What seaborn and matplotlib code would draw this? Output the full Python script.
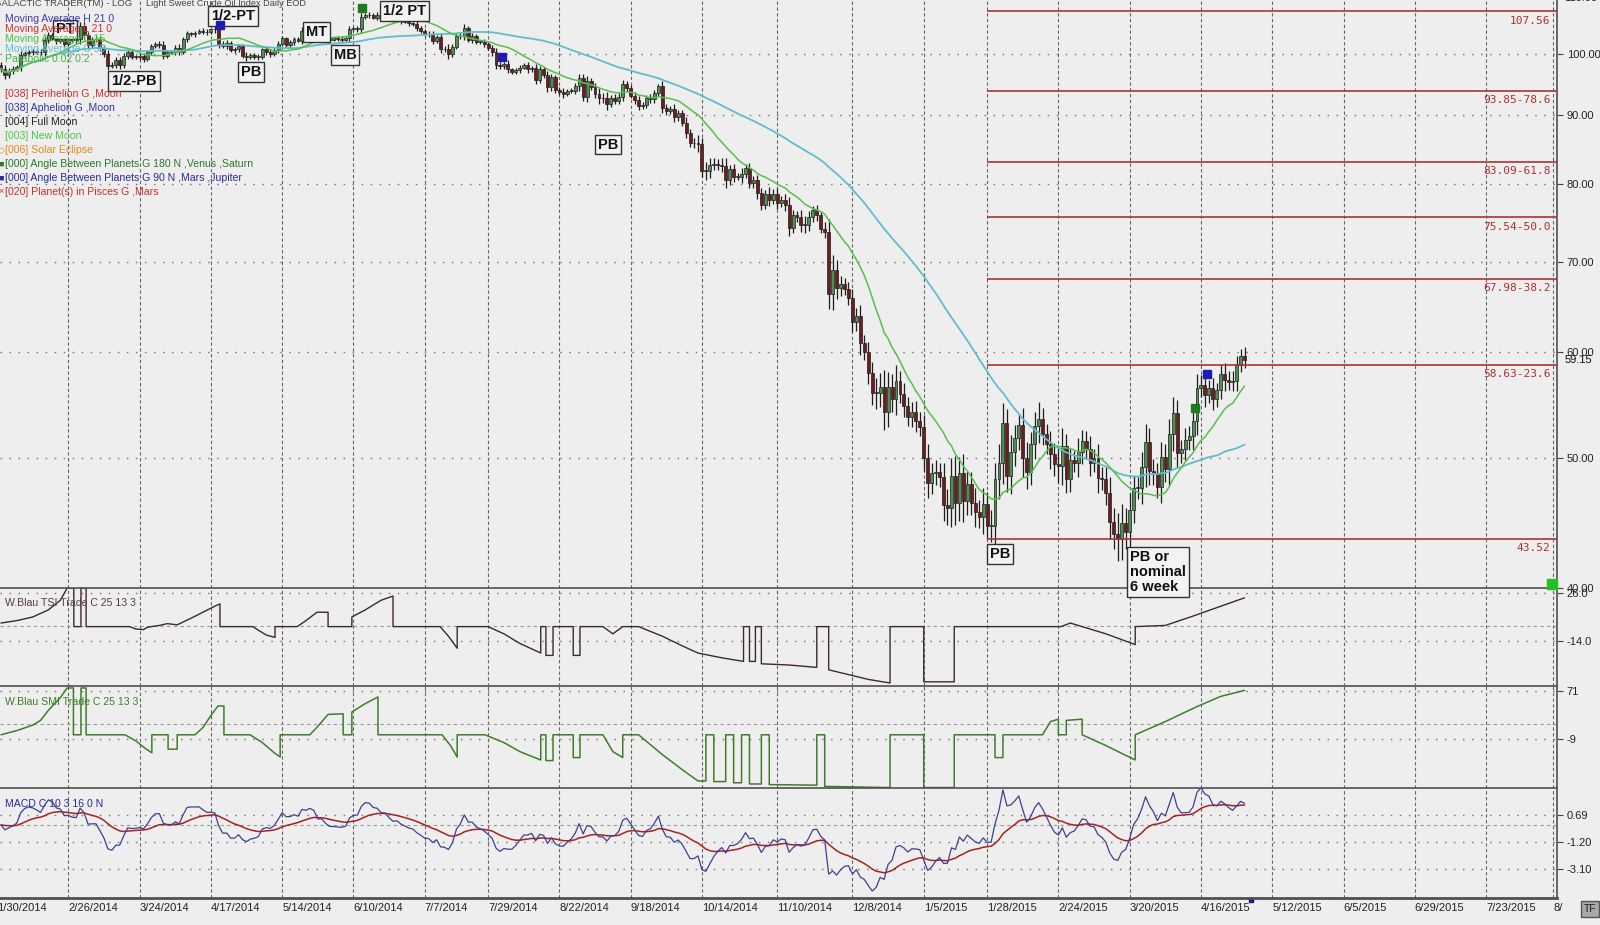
import numpy as np
import pandas as pd
import seaborn as sns
import matplotlib.pyplot as plt
import matplotlib.transforms as mtransforms

sns.set_style("white")
plt.rcParams['font.family'] = ['Liberation Sans', 'DejaVu Sans']

# ---- data ----
# daily closes, bar 1 (1/31/2014) .. bar 315 (5/1/2015)
first_open = 98.2
closes = [
    97.5, 96.4, 97.2, 97.4, 97.8, 99.9, 100.1, 100.4, 100.4, 100.4,
    100.3, 102.4, 103.3, 102.8, 102.2, 102.8, 101.8, 102.6, 102.4, 102.6,
    104.9, 103.3, 101.5, 102.6, 102.6, 101.1, 100.0, 98.0, 98.2, 98.9,
    98.1, 99.7, 100.4, 99.5, 99.5, 99.6, 99.2, 100.3, 101.3, 101.7,
    101.6, 99.7, 100.3, 100.3, 101.1, 100.4, 102.6, 103.6, 103.4, 103.7,
    104.1, 103.8, 103.8, 104.3, 104.4, 101.8, 101.4, 101.9, 100.6, 100.8,
    101.3, 99.7, 99.4, 99.8, 99.5, 99.5, 100.8, 100.3, 100.0, 100.6,
    101.7, 102.7, 101.5, 102.0, 102.6, 102.3, 104.1, 103.6, 104.4, 104.1,
    102.7, 103.6, 102.7, 102.5, 102.7, 102.6, 102.5, 102.7, 104.4, 104.4,
    104.4, 106.5, 106.9, 106.9, 106.4, 107.0, 106.4, 107.0, 106.2, 106.0,
    106.5, 105.8, 105.7, 105.4, 105.3, 104.5, 104.1, 103.5, 103.4, 102.3,
    102.9, 100.8, 100.9, 100.0, 101.2, 103.2, 103.1, 104.6, 102.4, 103.1,
    102.1, 102.1, 101.7, 101.0, 100.3, 98.2, 97.9, 98.3, 97.4, 97.0,
    97.3, 97.7, 98.1, 97.4, 97.6, 95.6, 97.4, 96.4, 94.5, 96.1,
    94.0, 93.7, 93.4, 93.9, 93.9, 94.6, 96.0, 92.9, 95.5, 94.5,
    93.3, 92.7, 92.8, 91.7, 92.8, 92.3, 92.9, 94.9, 94.4, 93.1,
    92.4, 91.5, 91.6, 92.8, 92.5, 93.5, 94.6, 91.2, 90.7, 91.0,
    89.7, 90.3, 88.9, 87.3, 85.8, 85.8, 85.7, 81.8, 81.8, 82.7,
    82.8, 82.7, 82.5, 80.5, 82.1, 81.0, 81.0, 81.4, 82.2, 80.1,
    80.5, 78.8, 77.2, 78.7, 77.9, 78.7, 77.4, 77.9, 77.2, 74.2,
    75.8, 75.6, 74.6, 74.6, 75.6, 76.5, 75.8, 74.1, 73.7, 66.2,
    69.0, 66.9, 67.4, 66.8, 65.8, 63.1, 63.8, 60.9, 60.0, 57.8,
    55.9, 55.9, 56.5, 54.1, 56.5, 55.3, 57.1, 55.8, 54.7, 53.6,
    54.1, 53.3, 52.7, 50.0, 47.9, 48.7, 48.8, 48.4, 46.1, 45.9,
    48.5, 46.3, 48.7, 46.4, 47.8, 46.3, 45.6, 45.2, 46.2, 44.5,
    44.5, 48.2, 49.6, 53.1, 48.5, 50.5, 51.7, 52.9, 50.0, 48.8,
    51.2, 52.8, 53.5, 52.1, 51.2, 50.3, 49.5, 49.3, 51.0, 48.2,
    49.8, 49.6, 50.5, 51.5, 50.8, 49.6, 50.0, 48.3, 48.2, 47.1,
    44.8, 43.9, 43.5, 44.7, 44.0, 45.7, 47.5, 47.5, 49.2, 51.4,
    48.9, 48.7, 47.6, 50.1, 49.1, 52.1, 54.0, 50.4, 50.8, 51.6,
    51.9, 53.3, 56.4, 56.7, 55.7, 56.4, 55.3, 56.2, 57.7, 57.2,
    57.0, 57.1, 58.6, 59.6, 59.2,
]
# wick length beyond the body, per bar
wicks = [
    .5, .6, .4, .5, .3, .6, .4, .3, .5, .4,
    .4, .6, .5, .4, .5, .3, .6, .4, .3, .5,
    .8, .7, .6, .4, .5, .6, .5, .7, .4, .5,
    .6, .4, .5, .3, .4, .5, .6, .4, .5, .3,
    .5, .6, .4, .3, .5, .6, .4, .5, .3, .4,
    .3, .4, .5, .3, .6, .7, .4, .5, .3, .4,
    .5, .4, .6, .3, .4, .5, .3, .4, .6, .4,
    .5, .4, .3, .5, .4, .3, .6, .4, .3, .5,
    .4, .3, .5, .4, .3, .4, .5, .3, .6, .4,
    .5, .7, .4, .5, .3, .4, .5, .6, .4, .3,
    .4, .5, .3, .4, .3, .5, .4, .3, .5, .6,
    .4, .7, .5, .9, .6, .4, .5, .6, .4, .5,
    .4, .3, .5, .4, .6, .7, .5, .4, .6, .3,
    .4, .5, .3, .6, .4, .7, .5, .4, .8, .6,
    .4, .5, .6, .3, .4, .5, .7, .6, .8, .5,
    .6, 1.0, .8, .9, .4, .5, .6, .7, .5, .4,
    .6, .7, .5, .4, .6, .5, .4, .8, .6, .5,
    .7, .6, .5, .8, .6, .7, 1.2, .9, 1.3, 1.0,
    .8, .7, .9, 1.1, .6, .7, .5, .8, .6, .7,
    .6, .8, .7, .5, .9, .6, .7, .5, .8, 1.0,
    .7, .6, .9, 1.1, .8, .6, .7, .5, .8, 1.6,
    1.8, 1.2, .9, .7, .8, 1.0, .9, 1.2, .8, 1.0,
    1.1, 1.5, 1.3, 1.6, 1.4, 1.2, 1.5, .9, 1.1, .8,
    .9, 1.0, .8, 1.1, 1.2, .9, 1.0, .8, 1.2, 1.3,
    1.5, 1.7, 1.4, 1.6, 1.1, 1.0, 1.2, .9, 1.3, 1.0,
    1.2, 1.4, 1.6, 1.8, 1.3, 1.5, 1.2, 1.0, 1.6, 1.4,
    1.1, 1.3, 1.5, 1.0, .9, 1.2, 1.0, 1.4, 1.6, 1.1,
    1.0, .8, 1.2, 1.0, .9, 1.1, .8, 1.2, .9, 1.0,
    1.3, 1.1, 1.6, 1.5, 1.2, 1.4, 1.0, .9, 1.3, 1.6,
    1.2, 1.0, .9, 1.3, 1.1, 1.4, 1.5, 1.2, .8, 1.0,
    .9, 1.2, 1.3, .9, 1.1, .8, 1.0, .7, .9, 1.1,
    .8, .9, 1.0, .7, .9,
]

# TSI "trade" line vertices (bar, value)
tsi_bar = [1, 5, 9, 13, 16, 17.7, 19.4, 19.4, 21.2, 21.2, 22.5, 22.5,
           33.5, 35, 37, 38, 41, 43, 45.5, 49, 52, 55, 56.3, 56.3,
           64.6, 66, 68, 70.2, 70.2, 75.8, 78, 80.8, 83.6, 83.6,
           89.6, 89.6, 93, 97, 100, 100, 111.9, 114, 116.2, 116.2,
           124, 128, 132, 137.3, 137.3, 138.6, 138.6, 140.4, 140.4,
           145.5, 145.5, 147.2, 147.2, 153, 155.5, 158, 162, 168, 173, 177,
           183, 188.5, 188.5, 190, 190, 191.5, 191.5, 193, 193, 200, 207, 207,
           210, 210, 215, 220, 225.5, 225.5, 234, 234, 241.7, 241.7,
           268.7, 271, 274, 280, 287.4, 287.4, 295, 302, 309, 315]
tsi_val = [1, 3, 6, 12, 20, 30, 30, -2, -2, 30, 30, -2,
           -2, -4, -4.5, -2.5, -1, 0.5, -0.5, 5, 10, 15, 17, -2,
           -2, -5, -9, -11, -2, -2, 3, 10, 10, -2,
           -2, 6, 12, 20, 23.5, -2, -2, -10, -20, -2,
           -2, -8, -16, -24, -2, -2, -26, -26, -2,
           -2, -26, -26, -2, -2, -8, -2, -2, -10, -18, -24,
           -28, -31, -2, -2, -31, -31, -2, -2, -33, -34, -36, -2,
           -2, -38, -42, -46, -49, -2, -2, -48, -48, -2,
           -2, 1, -2, -8, -17, -2, -1, 6.8, 15, 22]

# SMI "trade" line vertices (bar, value)
smi_bar = [1, 5, 9, 11, 13, 16, 17.7, 19.3, 19.3, 21.2, 21.2, 22.5, 22.5,
           32.3, 35, 37.5, 39.1, 39.1, 43.2, 43.2, 45.5, 45.5,
           50, 52, 54, 55.8, 57.3, 57.3, 63.9, 67, 70, 71.5, 71.5,
           79, 81, 83.6, 87.4, 87.4, 89.6, 89.6, 93, 96.2, 96.2,
           112.4, 114.5, 116.2, 116.2, 123.2, 128, 132, 137.3, 137.3, 138.6,
           138.6, 140.4, 140.4, 145.5, 145.5, 147.2, 147.2, 153, 155.5, 158, 158,
           162, 168, 173, 177, 179, 179, 181, 181, 184, 184, 186, 186, 188, 188,
           190, 190, 193, 193, 195, 195, 207, 207, 209, 209, 225.5, 225.5,
           234, 234, 241.7, 241.7, 252, 252, 254, 254, 264, 266, 268, 268,
           270, 270, 274, 274, 280, 287.4, 287.4, 295, 303, 309, 315]
smi_val = [-2, 5, 14, 22, 39, 60, 76, 76, -2, -2, 76, 76, -2,
           -2, -12, -25, -32, -2, -2, -26, -26, -2,
           -2, 10, 30, 46, 46, -2, -2, -15, -32, -39, -2,
           -2, 12, 32, 33, -2, -2, 36, 50, 61, -2,
           -2, -20, -39, -2, -2, -15, -30, -44, -2, -2,
           -45, -45, -2, -2, -40, -40, -2, -2, -30, -40, -2,
           -2, -35, -60, -79, -79, -2, -2, -80, -80, -2, -2, -82, -82, -2,
           -2, -84, -84, -2, -2, -85, -86, -2, -2, -88, -90, -2,
           -2, -90, -90, -2, -2, -40, -40, -2, -2, 20, 24, -2,
           -2, 22, 24, -2, -20, -44, -2, 20, 45, 62, 72]

# x axis: bar numbers of the date ticks
tick_bars = [0, 18, 36, 54, 72, 90, 108, 124, 142, 160, 178, 197, 216, 234,
             250, 268, 286, 304, 322, 340, 358, 376, 393]
tick_labels = ['1/30/2014', '2/26/2014', '3/24/2014', '4/17/2014', '5/14/2014',
               '6/10/2014', '7/7/2014', '7/29/2014', '8/22/2014', '9/18/2014',
               '10/14/2014', '11/10/2014', '12/8/2014', '1/5/2015', '1/28/2015',
               '2/24/2015', '3/20/2015', '4/16/2015', '5/12/2015', '6/5/2015',
               '6/29/2015', '7/23/2015', '8/']

fib_levels = [107.56, 93.85, 83.09, 75.54, 67.98, 58.63, 43.52]
fib_labels = ['107.56', '93.85-78.6', '83.09-61.8', '75.54-50.0',
              '67.98-38.2', '58.63-23.6', '43.52']
fib_start = 250

ann_text = ['PT', '1/2-PB', '1/2-PT', 'PB', 'MT', 'MB', '1/2 PT', 'PB', 'PB']
ann_bar = [17.2, 34.6, 59.6, 64.1, 80.6, 87.9, 102.8, 154.3, 253.3]
ann_price = [104.3, 95.4, 106.7, 96.9, 103.8, 99.8, 107.6, 85.6, 42.4]

mk_bar = [56.3, 127.5, 305.6, 92.2, 302.5]
mk_price = [105.1, 99.4, 57.7, 108.2, 54.5]
mk_color = ['#1c1cb0', '#1c1cb0', '#1c1cb0', '#1e7a1e', '#1e7a1e']

legend_text = ['Moving Average H 21 0', 'Moving Average L 21 0', 'Moving Average C 15',
               'Moving Average C 50', 'Parabolic 0.02 0.2']
legend_color = ['#3b3bb0', '#d03434', '#4cbf44', '#5ec0d0', '#48b048']
astro_text = ['[038] Perihelion G ,Moon', '[038] Aphelion G ,Moon', '[004] Full Moon',
              '[003] New Moon', '[006] Solar Eclipse',
              '[000] Angle Between Planets G 180 N ,Venus ,Saturn',
              '[000] Angle Between Planets G 90 N ,Mars ,Jupiter',
              '[020] Planet(s) in Pisces G ,Mars']
astro_color = ['#c83030', '#3333a8', '#222222', '#48c848', '#e08a20',
               '#2a7a2a', '#2a2a9a', '#c83030']
astro_sym = ['·', '·', '·', '·', '◇', '■', '■', '×']

# ---- derived series ----
c = np.array(closes)
o = np.concatenate([[first_open], c[:-1]])
w = np.array(wicks)
df = pd.DataFrame({'bar': np.arange(1, len(c) + 1), 'open': o, 'close': c,
                   'high': np.maximum(o, c) + w, 'low': np.minimum(o, c) - w})
df['ma_fast'] = df['close'].rolling(15, min_periods=1).mean()
df['ma_slow'] = df['close'].rolling(50, min_periods=1).mean()
df['macd'] = df['close'].ewm(span=3, adjust=False).mean() - df['close'].ewm(span=10, adjust=False).mean()
df['signal'] = df['macd'].ewm(span=16, adjust=False).mean()
tsi = pd.DataFrame({'bar': tsi_bar, 'val': tsi_val})
smi = pd.DataFrame({'bar': smi_bar, 'val': smi_val})

# ---- layout ----
BG = '#eeeeee'
GRID = '#666666'
W, H = 1600, 925
XL = (0.76, 393.9)

fig = plt.figure(figsize=(16, 9.25), dpi=100, facecolor=BG)


def rect(top, bottom, left=0, right=1557):
    return [left / W, 1 - bottom / H, (right - left) / W, (bottom - top) / H]


ax_p = fig.add_axes(rect(0, 588))
ax_t = fig.add_axes(rect(588, 686))
ax_s = fig.add_axes(rect(686, 788))
ax_m = fig.add_axes(rect(788, 898))
ax_p.set_zorder(3)

panels = [
    (ax_t, (-51.5, 30.2), [26, -14], ['26.0', '-14.0'], -1.5),
    (ax_s, (-90.7, 79.3), [71, -9], ['71', '-9'], 16),
    (ax_m, (-5.12, 2.58), [0.69, -1.2, -3.1], ['0.69', '-1.20', '-3.10'], 0),
]

for ax in [ax_p, ax_t, ax_s, ax_m]:
    ax.set_facecolor('none')
    ax.set_xlim(*XL)
    for side in ['left', 'top']:
        ax.spines[side].set_visible(False)
    for side in ['right', 'bottom']:
        ax.spines[side].set_color('#505050')
        ax.spines[side].set_linewidth(1.2)
    ax.yaxis.tick_right()
    ax.tick_params(axis='y', length=4, width=0.8, color='#444', labelsize=8,
                   labelcolor='#222', pad=3)
    ax.tick_params(axis='x', length=0, labelbottom=False)
    for t in tick_bars:
        ax.axvline(t, color=GRID, lw=0.8, dashes=(3, 2.2), zorder=0)
ax_m.spines['bottom'].set_linewidth(2)
ax_m.set_xticks(tick_bars)
ax_m.tick_params(axis='x', length=5, width=0.8, color='#555')
ax_m.set_xlim(*XL)

# ---- price panel ----
ax_p.set_yscale('log')
ax_p.set_ylim(40.0, 109.7)
ax_p.minorticks_off()
price_ticks = [40, 50, 60, 70, 80, 90, 100]
ax_p.set_yticks(price_ticks, labels=['%.2f' % v for v in price_ticks])
for v in price_ticks[1:]:
    ax_p.axhline(v, color='#777', lw=1.0, dashes=(1.1, 5.4), zorder=0)

up = df['close'] >= df['open']
body_lo = np.minimum(df['open'], df['close'])
body_h = np.maximum(np.abs(df['close'] - df['open']), 0.08)
ax_p.vlines(df['bar'], df['low'], df['high'], color='#1e1e1e', lw=0.9, zorder=2)
ax_p.bar(df['bar'], body_h, bottom=body_lo, width=0.74,
         color=np.where(up, '#4f8f4f', '#6e1c1c'), edgecolor='#1e1e1e', lw=0.5, zorder=3)

sns.lineplot(data=df, x='bar', y='ma_slow', ax=ax_p, color='#62bccc', lw=1.3, zorder=4)
sns.lineplot(data=df, x='bar', y='ma_fast', ax=ax_p, color='#58bf4c', lw=1.1, zorder=4)

ax_p.hlines(fib_levels, fib_start, XL[1], color='#a83434', lw=1.2, zorder=3)
for lv, lab in zip(fib_levels, fib_labels):
    ax_p.annotate(lab, xy=(392.3, lv), xytext=(0, -3), textcoords='offset points',
                  ha='right', va='top', fontsize=8, color='#b03030',
                  family='DejaVu Sans Mono')

box = dict(boxstyle='square,pad=0.2', fc='#f3f3f3', ec='#333333', lw=1.0)
for t, b, p in zip(ann_text, ann_bar, ann_price):
    ax_p.text(b, p, t, ha='center', va='center', fontsize=10.5, fontweight='bold',
              color='#111', bbox=box, zorder=6)
ax_p.text(286.1, 42.7, 'PB or\nnominal\n6 week', ha='left', va='top', fontsize=10.5,
          fontweight='bold', color='#111', bbox=box, zorder=6, clip_on=False,
          linespacing=1.1)

for b, p, col in zip(mk_bar, mk_price, mk_color):
    ax_p.plot([b], [p], marker='s', ms=6, color=col, mec=col, zorder=7)
ax_p.plot([392.7], [40.3], marker='s', ms=7, color='#22c022', mec='#22c022',
          zorder=7, clip_on=False)

yblend = mtransforms.blended_transform_factory(ax_p.transAxes, ax_p.transData)
ax_p.text(1.0046, 110, '110.00', transform=yblend, ha='left', va='center',
          fontsize=8, color='#222', clip_on=False)
ax_p.text(1.0046, 59.15, '59.15', transform=yblend, ha='left', va='center',
          fontsize=8, color='#111', clip_on=False)
ax_p.set_xlabel('')
ax_p.set_ylabel('')

# ---- indicator panels ----
for ax, yl, ticks, labs, mid in panels:
    ax.set_ylim(*yl)
    ax.set_yticks(ticks, labels=labs)
    for v in ticks:
        ax.axhline(v, color='#777', lw=1.0, dashes=(1.1, 5.4), zorder=0)
    ax.axhline(mid, color='#999', lw=0.8, dashes=(3, 3), zorder=0)

sns.lineplot(data=tsi, x='bar', y='val', ax=ax_t, estimator=None, sort=False,
             color='#3e2a2a', lw=1.0)
sns.lineplot(data=smi, x='bar', y='val', ax=ax_s, estimator=None, sort=False,
             color='#3f7d2c', lw=1.1)
sns.lineplot(data=df, x='bar', y='signal', ax=ax_m, color='#a82222', lw=1.1)
sns.lineplot(data=df, x='bar', y='macd', ax=ax_m, color='#40408c', lw=0.9)
for ax in [ax_t, ax_s, ax_m]:
    ax.set_xlabel('')
    ax.set_ylabel('')

xblend = mtransforms.blended_transform_factory(ax_m.transData, ax_m.transAxes)
for t, lab in zip(tick_bars, tick_labels):
    ax_m.text(t, -0.092, lab, transform=xblend, ha='left', va='center',
              fontsize=8, color='#222', clip_on=False)
ax_m.plot([316.6], [-0.02], transform=xblend, marker='s', ms=3, color='#1c1c80',
          clip_on=False)

# ---- text in the top-left corner ----
def ftext(x, y, s, **kw):
    fig.text(x / W, 1 - y / H, s, va='center', ha='left', **kw)


ftext(-6, 4, 'GALACTIC TRADER(TM) - LOG', fontsize=6.8, color='#444')
ftext(146, 4, 'Light Sweet Crude Oil Index Daily EOD', fontsize=6.6, color='#444')
for i, (s, col) in enumerate(zip(legend_text, legend_color)):
    ftext(5, 19 + 10 * i, s, fontsize=7.6, color=col)
for i, (s, col, sym) in enumerate(zip(astro_text, astro_color, astro_sym)):
    ftext(-2, 94 + 14 * i, sym, fontsize=6.5, color=col)
    ftext(5, 94 + 14 * i, s, fontsize=7.6, color=col)

ftext(5, 603, 'W.Blau TSI Trade C 25 13 3', fontsize=7.6, color='#5a3c3c')
ftext(5, 702, 'W.Blau SMI Trade C 25 13 3', fontsize=7.6, color='#3f7d2c')
ftext(5, 804, 'MACD C 10 3 16 0 N', fontsize=7.6, color='#2a2a9a')

fig.text(1590 / W, 1 - 909 / H, 'TF', ha='center', va='center', fontsize=7.5,
         color='#222', bbox=dict(boxstyle='square,pad=0.25', fc='#a8a8a8', ec='#555'))

fig.savefig('out.png', dpi=100, facecolor=BG)
